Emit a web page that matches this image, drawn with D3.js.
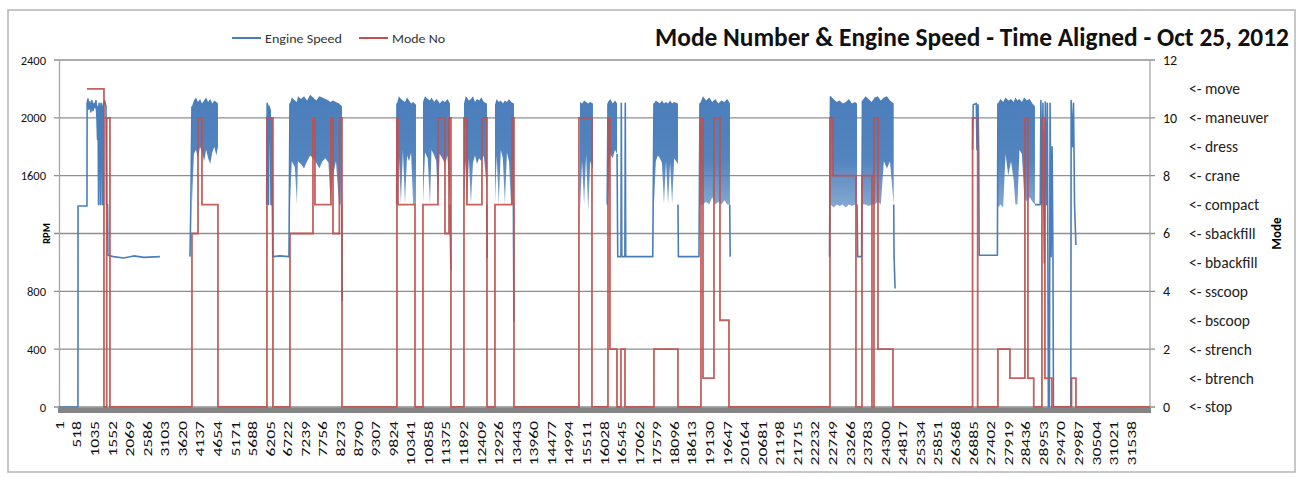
<!DOCTYPE html>
<html>
    <head>
        <title>Mode Number &amp; Engine Speed</title>
        <meta charset="UTF-8">
        <script src="https://cdnjs.cloudflare.com/ajax/libs/d3/7.8.5/d3.min.js"></script>
        <style>
        body {
            margin: 0;
            background-color: #ffffff;
        }
        text {
            font-family: Carlito, 'Liberation Sans Narrow', 'Liberation Sans', Arial, sans-serif;
        }
        </style>
    </head>
    <body>

    <div id="chart"></div>

<script>
/*global d3*/

// ---------------------------------------------------------------
// data (x = sample number, 1..~32100)
// ---------------------------------------------------------------

var xTicks = [1, 518, 1035, 1552, 2069, 2586, 3103, 3620, 4137, 4654, 5171, 5688,
    6205, 6722, 7239, 7756, 8273, 8790, 9307, 9824, 10341, 10858, 11375, 11892,
    12409, 12926, 13443, 13960, 14477, 14994, 15511, 16028, 16545, 17062, 17579,
    18096, 18613, 19130, 19647, 20164, 20681, 21198, 21715, 22232, 22749, 23266,
    23783, 24300, 24817, 25334, 25851, 26368, 26885, 27402, 27919, 28436, 28953,
    29470, 29987, 30504, 31021, 31538];

var rpmTicks = [0, 400, 800, 1200, 1600, 2000, 2400];
var modeTicks = [0, 2, 4, 6, 8, 10, 12];
var modeNames = ["stop", "btrench", "strench", "bscoop", "sscoop", "bbackfill",
    "sbackfill", "compact", "crane", "dress", "maneuver", "move"];

// engine speed trace, [sample, rpm]; null = no data
var speedLine = [
    [1, 0], [559, 0], [561, 1390], [824, 1390], [828, 2100], [853, 2130], [880, 2060],
    [912, 2110], [940, 2040], [971, 2120], [1000, 2050], [1030, 2100], [1060, 2070],
    [1089, 2120], [1118, 2000], [1135, 1850], [1150, 2080], [1165, 1400], [1177, 2100],
    [1206, 2050], [1222, 1400], [1236, 2100], [1265, 2080], [1280, 1400], [1300, 1400],
    [1310, 2100], [1340, 2120], [1383, 2080], [1400, 1400], [1430, 1400], [1442, 1050],
    [1600, 1040], [1900, 1030], [2200, 1045], [2500, 1035], [2971, 1040], null,
    [3855, 1040], [3880, 1400], [3913, 2080], null,
    [6110, 1400], [6125, 2100], [6150, 2070], [6165, 1400], [6180, 2080], [6215, 2050],
    [6240, 1400], [6260, 2000], [6290, 1040], [6500, 1045], [6767, 1040], [6796, 2100], null,
    [8320, 1400], [8335, 730], null,
    [9935, 1400], [9945, 2100], null,
    [11504, 1400], [11530, 950], null,
    [12585, 1400], [12600, 1030], null,
    [13370, 1400], [13385, 590], null,
    [16130, 1400], [16153, 2100], null,
    [16420, 1750], [16440, 1040], [16535, 1040], [16545, 2100], [16560, 1040],
    [16650, 1040], [16662, 2100], [16675, 1040], [17470, 1040], [17506, 2100], null,
    [18212, 1400], [18225, 1040], [18830, 1040], [18859, 2100], null,
    [19735, 1400], [19748, 1040], null,
    [22670, 1040], [22700, 2150], null,
    [23480, 1400], [23500, 1040], [23615, 1040], [23640, 2120], null,
    [24560, 1400], [24570, 1040], [24600, 820], null,
    [26880, 1780], [26900, 2090], [26990, 2100], [27010, 1780], [27040, 2090],
    [27060, 1780], [27075, 1050], [27610, 1050], [27625, 2100], null,
    [28715, 1400], [28870, 1400], [28890, 2120], [28920, 1400], [28950, 2100],
    [28990, 995], [29020, 2110], [29060, 1400], [29080, 2100], [29110, 0], [29140, 0],
    [29160, 2100], [29190, 1040], [29220, 1800], [29245, 1040], [29260, 0], [29770, 0],
    [29780, 2120], [29820, 1800], [29850, 2100], [29880, 1400], [29920, 1120], null
];

// dense oscillating stretches of engine speed: [sample, low rpm, high rpm]
var speedBand = [
    [3913, 1400, 2080], [3970, 1750, 2120], [4030, 1780, 2140], [4090, 1720, 2110],
    [4150, 1800, 2130], [4210, 1760, 2100], [4270, 1700, 2120], [4330, 1780, 2140],
    [4390, 1720, 2110], [4450, 1680, 2130], [4510, 1760, 2100], [4570, 1800, 2120],
    [4630, 1740, 2110], [4678, 1800, 2100], null,
    [6796, 1400, 2100], [6850, 1700, 2140], [6940, 1660, 2120], [7002, 1400, 2110],
    [7030, 1700, 2150], [7120, 1680, 2130], [7210, 1650, 2150], [7300, 1700, 2120],
    [7390, 1740, 2160], [7480, 1720, 2140], [7570, 1690, 2120], [7660, 1650, 2150],
    [7750, 1700, 2140], [7840, 1720, 2130], [7930, 1690, 2120], [7990, 1400, 2110],
    [8060, 1600, 2120], [8150, 1700, 2110], [8240, 1400, 2100], [8327, 1400, 2080], null,
    [9945, 1400, 2100], [10000, 1750, 2150], [10060, 1400, 2130], [10120, 1780, 2120],
    [10180, 1400, 2110], [10240, 1740, 2140], [10300, 1700, 2120], [10360, 1760, 2100],
    [10420, 1400, 2110], [10504, 1400, 2090], null,
    [10710, 1400, 2110], [10770, 1760, 2150], [10850, 1720, 2130], [10916, 1400, 2120],
    [10960, 1780, 2140], [11040, 1740, 2110], [11100, 1700, 2130], [11151, 1400, 2120],
    [11200, 1750, 2100], [11280, 1720, 2120], [11360, 1680, 2110], [11430, 1740, 2130],
    [11504, 1400, 2100], null,
    [11916, 1400, 2100], [11970, 1700, 2150], [12004, 1400, 2140], [12060, 1720, 2120],
    [12120, 1400, 2130], [12180, 1690, 2150], [12240, 1740, 2110], [12300, 1680, 2130],
    [12360, 1720, 2120], [12430, 1700, 2140], [12500, 1740, 2110], [12593, 1500, 2100], null,
    [12828, 1400, 2090], [12880, 1740, 2130], [12940, 1400, 2110], [13000, 1780, 2120],
    [13060, 1720, 2100], [13120, 1400, 2120], [13180, 1760, 2110], [13240, 1700, 2130],
    [13300, 1400, 2110], [13387, 1400, 2100], null,
    [15329, 1350, 2110], [15390, 1700, 2100], [15450, 1400, 2120], [15510, 1750, 2110],
    [15570, 1350, 2100], [15630, 1700, 2110], [15711, 1650, 2100], null,
    [16153, 1400, 2110], [16220, 1750, 2130], [16290, 1720, 2100], [16360, 1780, 2120],
    [16420, 1750, 2100], null,
    [17506, 1400, 2100], [17560, 1700, 2120], [17620, 1740, 2110], [17680, 1720, 2100],
    [17740, 1690, 2120], [17800, 1400, 2100], [17860, 1700, 2110], [17920, 1400, 2100],
    [17980, 1690, 2120], [18040, 1400, 2100], [18100, 1720, 2110], [18212, 1680, 2100], null,
    [18859, 1400, 2100], [18950, 1400, 2150], [19040, 1420, 2120], [19130, 1400, 2140],
    [19220, 1450, 2110], [19310, 1400, 2130], [19400, 1420, 2100], [19490, 1400, 2120],
    [19580, 1430, 2110], [19660, 1400, 2130], [19742, 1400, 2100], null,
    [22700, 1400, 2150], [22790, 1380, 2130], [22880, 1400, 2110], [22970, 1390, 2120],
    [23060, 1400, 2100], [23150, 1380, 2110], [23240, 1400, 2130], [23330, 1390, 2100],
    [23420, 1400, 2110], [23480, 1400, 2100], null,
    [23640, 1400, 2120], [23730, 1400, 2150], [23820, 1390, 2130], [23910, 1400, 2110],
    [24000, 1400, 2140], [24090, 1420, 2150], [24180, 1400, 2120], [24270, 1700, 2140],
    [24360, 1650, 2150], [24450, 1700, 2120], [24560, 1400, 2100], null,
    [27625, 1380, 2100], [27700, 1400, 2130], [27780, 1380, 2110], [27850, 1750, 2140],
    [27930, 1600, 2120], [28010, 1700, 2130], [28090, 1570, 2110], [28140, 1400, 2140],
    [28200, 1400, 2120], [28260, 1780, 2130], [28330, 1750, 2110], [28400, 1450, 2140],
    [28480, 1420, 2120], [28560, 1450, 2130], [28640, 1420, 2100], [28715, 1400, 2080]
];

// mode number, [sample where it changes, new mode]
var modeSteps = [
    [824, 11], [1324, 0], [1405, 10], [1500, 0], [3913, 6], [4090, 10], [4207, 7],
    [4678, 0], [6119, 10], [6296, 0], [6796, 6], [7473, 10], [7532, 7], [8003, 10],
    [8062, 6], [8250, 10], [8327, 0], [9945, 10], [9975, 7], [10475, 0], [10710, 7],
    [11151, 10], [11357, 6], [11475, 10], [11533, 0], [11916, 10], [12004, 7],
    [12445, 10], [12593, 0], [12828, 7], [13328, 10], [13387, 0], [15299, 10],
    [15682, 0], [16153, 10], [16211, 2], [16417, 0], [16535, 2], [16653, 0],
    [17506, 2], [18212, 0], [18889, 10], [18948, 1], [19271, 10], [19448, 3],
    [19713, 0], [22684, 10], [22773, 8], [23449, 0], [23626, 8], [23920, 0],
    [23979, 10], [24097, 2], [24538, 0], [26880, 10], [27030, 0], [27625, 2],
    [27979, 1], [28420, 10], [28508, 1], [28680, 0], [28921, 10], [29009, 1],
    [29215, 0], [29790, 1], [29921, 0], [32100, 0]
];

// ---------------------------------------------------------------

var W = 1299, H = 477;
var BLUE = "#4a7ebb", RED = "#c0504d", GRID = "#8f8f8f";

var x = d3.scaleLinear().domain([1, 32100]).range([59, 1150]);
var yL = d3.scaleLinear().domain([0, 2400]).range([407, 60]);
var yR = d3.scaleLinear().domain([0, 12]).range([407, 60]);

var svg = d3.select("#chart").append("svg")
    .attr("width", W)
    .attr("height", H);

// outer frame
svg.append("rect")
    .attr("x", 8).attr("y", 10)
    .attr("width", 1287).attr("height", 462)
    .attr("fill", "#fff")
    .attr("stroke", "#b5b5b5")
    .attr("stroke-width", 1.5);

// fill for the dense stretches, solid on top, streaky below
var grad = svg.append("defs").append("linearGradient")
    .attr("id", "bandFill")
    .attr("gradientUnits", "userSpaceOnUse")
    .attr("x1", 0).attr("x2", 0)
    .attr("y1", yL(2150)).attr("y2", yL(1350));
grad.append("stop").attr("offset", "0%").attr("stop-color", BLUE).attr("stop-opacity", 1);
grad.append("stop").attr("offset", "55%").attr("stop-color", BLUE).attr("stop-opacity", 0.95);
grad.append("stop").attr("offset", "100%").attr("stop-color", BLUE).attr("stop-opacity", 0.65);

// gridlines
svg.append("g")
    .selectAll("line")
    .data(rpmTicks)
    .enter().append("line")
    .attr("x1", 54).attr("x2", 1155)
    .attr("y1", function (d) { return yL(d); })
    .attr("y2", function (d) { return yL(d); })
    .attr("stroke", GRID)
    .attr("stroke-width", 1.3);

// left and right axis lines
svg.append("line")
    .attr("x1", 59.5).attr("x2", 59.5).attr("y1", 60).attr("y2", 407)
    .attr("stroke", "#a6a6a6").attr("stroke-width", 1.3);
svg.append("line")
    .attr("x1", 1150).attr("x2", 1150).attr("y1", 60).attr("y2", 407)
    .attr("stroke", "#a6a6a6").attr("stroke-width", 1.3);

// engine speed
var band = d3.area()
    .defined(function (d) { return d !== null; })
    .x(function (d) { return x(d[0]); })
    .y0(function (d) { return yL(d[1]); })
    .y1(function (d) { return yL(d[2]); });

svg.append("path")
    .datum(speedBand)
    .attr("d", band)
    .attr("fill", "url(#bandFill)")
    .attr("stroke", "none");

var speedPath = d3.line()
    .defined(function (d) { return d !== null; })
    .x(function (d) { return x(d[0]); })
    .y(function (d) { return yL(d[1]); });

svg.append("path")
    .datum(speedLine)
    .attr("d", speedPath)
    .attr("fill", "none")
    .attr("stroke", BLUE)
    .attr("stroke-width", 1.6)
    .attr("stroke-linejoin", "round");

// mode number
var modePath = d3.line()
    .curve(d3.curveStepAfter)
    .x(function (d) { return x(d[0]); })
    .y(function (d) { return yR(d[1]); });

svg.append("path")
    .datum(modeSteps)
    .attr("d", modePath)
    .attr("fill", "none")
    .attr("stroke", RED)
    .attr("stroke-width", 1.8)
    .attr("stroke-opacity", 0.9);

// heavy category axis bar
svg.append("rect")
    .attr("x", 58).attr("y", 407.5)
    .attr("width", 1093).attr("height", 5.5)
    .attr("fill", "#858585");

// ----- axes -----

var leftAxis = svg.append("g")
    .attr("transform", "translate(46,0)")
    .call(d3.axisLeft(yL).tickValues(rpmTicks).tickSize(0).tickPadding(0)
        .tickFormat(d3.format("d")));
leftAxis.select(".domain").remove();
leftAxis.selectAll("text")
    .style("font-size", "12.5px")
    .attr("fill", "#111");

var rightAxis = svg.append("g")
    .attr("transform", "translate(1163,0)")
    .call(d3.axisRight(yR).tickValues(modeTicks).tickSize(0).tickPadding(0));
rightAxis.select(".domain").remove();
rightAxis.selectAll("text")
    .style("font-size", "14px")
    .attr("fill", "#111");

var bottomAxis = svg.append("g")
    .attr("transform", "translate(0,410)")
    .call(d3.axisBottom(x).tickValues(xTicks).tickSize(0).tickFormat(d3.format("d")));
bottomAxis.select(".domain").remove();
bottomAxis.selectAll("text")
    .attr("transform", "rotate(-90)")
    .attr("x", -11)
    .attr("y", 0)
    .attr("dy", "0.35em")
    .style("text-anchor", "end")
    .style("font-size", "12.5px")
    .attr("fill", "#111")
    .attr("textLength", function (d) { return String(d).length * 8.9; })
    .attr("lengthAdjust", "spacingAndGlyphs");

// mode names next to the right axis
svg.append("g")
    .selectAll("text")
    .data(modeNames)
    .enter().append("text")
    .attr("x", 1189)
    .attr("y", function (d, i) { return yR(i); })
    .attr("dy", "0.35em")
    .style("font-size", "15.5px")
    .attr("fill", "#222")
    .text(function (d) { return "<- " + d; });

// axis titles (RPM box sits over the 1200 label as in the original)
svg.append("rect")
    .attr("x", 16).attr("y", 214)
    .attr("width", 37).attr("height", 38)
    .attr("fill", "#fff");
svg.append("text")
    .attr("transform", "translate(50," + yL(1200) + ") rotate(-90)")
    .style("text-anchor", "middle")
    .style("font-size", "10.5px")
    .style("font-weight", "bold")
    .text("RPM");

svg.append("text")
    .attr("transform", "translate(1281," + yR(6) + ") rotate(-90)")
    .style("text-anchor", "middle")
    .style("font-size", "13px")
    .style("font-weight", "bold")
    .text("Mode");

// ----- title and legend -----

svg.append("text")
    .attr("transform", "translate(655,46) scale(1,1.15)")
    .style("font-size", "22.5px")
    .style("font-weight", "bold")
    .attr("fill", "#111")
    .attr("textLength", 634)
    .attr("lengthAdjust", "spacingAndGlyphs")
    .text("Mode Number & Engine Speed - Time Aligned - Oct 25, 2012");

var legend = [
    { name: "Engine Speed", color: BLUE, x: 232, w: 77 },
    { name: "Mode No", color: RED, x: 359, w: 53 }
];
var lg = svg.append("g").selectAll("g")
    .data(legend)
    .enter().append("g")
    .attr("transform", function (d) { return "translate(" + d.x + ",38)"; });
lg.append("line")
    .attr("x1", 0).attr("x2", 29)
    .attr("stroke", function (d) { return d.color; })
    .attr("stroke-width", 2);
lg.append("text")
    .attr("x", 33)
    .attr("dy", "0.35em")
    .style("font-size", "13px")
    .attr("fill", "#333")
    .attr("textLength", function (d) { return d.w; })
    .attr("lengthAdjust", "spacingAndGlyphs")
    .text(function (d) { return d.name; });

</script>

    </body>
</html>
